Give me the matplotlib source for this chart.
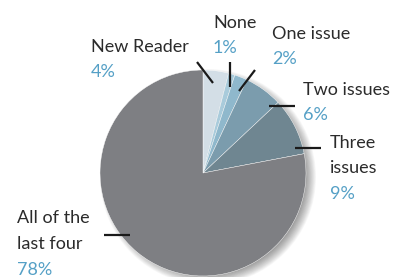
import matplotlib
matplotlib.use("Agg")
import matplotlib.pyplot as plt
from matplotlib.patches import Circle

categories = ["New Reader", "None", "One issue", "Two issues", "Three issues", "All of the last four"]
values = [4, 1, 2, 6, 9, 78]
colors = ["#d3dee6", "#a9cbdb", "#8fb8cc", "#7b9cad", "#6f8691", "#7e7f83"]

W, H = 399, 277
fig = plt.figure(figsize=(W / 100, H / 100), dpi=100)
ax = fig.add_axes([0, 0, 1, 1])

def Y(py):
    return H - py

cx, cy, r = 203, Y(173), 103

# soft shadow to the lower right
for i in range(14):
    ax.add_patch(Circle((cx + 5, cy - 4), r + 5 - i * 0.8,
                        facecolor="black", alpha=0.03, edgecolor="none", zorder=1))

ax.pie(values, colors=colors, startangle=90, counterclock=False, center=(cx, cy),
       radius=r, wedgeprops=dict(edgecolor="white", linewidth=0.3), frame=True)
for p in ax.patches[-len(values):]:
    p.set_zorder(2)
ax.set_xlim(0, W)
ax.set_ylim(0, H)
ax.set_aspect("equal")
ax.axis("off")

font = "Lato"
fs = 13
dark = "#2b2b2b"
blue = "#55a0c6"

def lbl(x, y, s, c):
    ax.text(x, Y(y), s, fontsize=fs, family=font, color=c, ha="left", va="baseline", zorder=5)

lbl(91, 52, "New Reader", dark); lbl(91, 77, "4%", blue)
lbl(213, 28, "None", dark); lbl(213, 53, "1%", blue)
lbl(272, 39, "One issue", dark); lbl(272, 64, "2%", blue)
lbl(303, 95, "Two issues", dark); lbl(303, 120, "6%", blue)
lbl(330, 148, "Three", dark); lbl(330, 173, "issues", dark); lbl(330, 199, "9%", blue)
lbl(17, 223, "All of the", dark); lbl(17, 249, "last four", dark); lbl(17, 275, "78%", blue)

lines = [((197, 62), (213, 83)), ((230, 62), (230, 87)), ((255, 70), (239, 91)),
         ((269, 106), (295, 106)), ((295, 148), (321, 148)), ((104, 235), (130, 235))]
for (x0, y0), (x1, y1) in lines:
    ax.plot([x0, x1], [Y(y0), Y(y1)], color="#1a1a1a", lw=1.6, zorder=6, solid_capstyle="butt")

fig.savefig("out.png", dpi=100)
